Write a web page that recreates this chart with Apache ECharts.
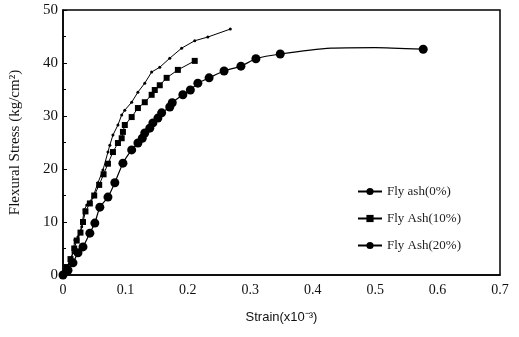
<!DOCTYPE html>
<html><head><meta charset="utf-8">
<script src="https://cdn.jsdelivr.net/npm/echarts@6/dist/echarts.min.js"></script>
<style>html,body{margin:0;padding:0;background:#fff}#c{width:519px;height:337px}</style>
</head><body><div id="c"></div>
<script>
const seriesNames = ['Fly ash(0%)', 'Fly Ash(10%)', 'Fly Ash(20%)'];
const xTicks = [0, 0.1, 0.2, 0.3, 0.4, 0.5, 0.6, 0.7];
const yTicks = [0, 10, 20, 30, 40, 50];

const strain0 = [0, 0.003, 0.011, 0.016, 0.019, 0.024, 0.03, 0.034, 0.038, 0.048, 0.056, 0.064, 0.072, 0.075, 0.08, 0.088, 0.094, 0.099, 0.11, 0.12, 0.131, 0.142, 0.155, 0.171, 0.19, 0.211, 0.232, 0.268];
const stress0 = [0, 0.9, 2.3, 4.2, 6.6, 7.2, 9.1, 12.3, 13.2, 14.7, 17.4, 19.8, 23.2, 24.5, 26.4, 28.3, 30.2, 31.1, 32.6, 34.5, 36.2, 38.3, 39.2, 40.9, 42.8, 44.2, 44.9, 46.4];

const strain10 = [0, 0.006, 0.012, 0.018, 0.022, 0.028, 0.032, 0.036, 0.043, 0.05, 0.058, 0.065, 0.072, 0.08, 0.088, 0.094, 0.096, 0.099, 0.11, 0.12, 0.131, 0.142, 0.147, 0.155, 0.166, 0.184, 0.211];
const stress10 = [0, 1.5, 3.0, 5.0, 6.5, 8.0, 10.0, 12.0, 13.5, 15.0, 17.0, 19.0, 21.0, 23.2, 24.9, 25.8, 27.0, 28.3, 29.8, 31.5, 32.6, 34.0, 34.9, 35.8, 37.2, 38.7, 40.4];

const strain20 = [0, 0.008, 0.016, 0.024, 0.032, 0.043, 0.051, 0.059, 0.072, 0.083, 0.096, 0.11, 0.12, 0.127, 0.131, 0.139, 0.144, 0.152, 0.158, 0.171, 0.175, 0.192, 0.204, 0.216, 0.234, 0.258, 0.285, 0.309, 0.348, 0.43, 0.5, 0.577];
const stress20 = [0, 0.9, 2.3, 4.2, 5.3, 7.9, 9.8, 12.8, 14.7, 17.4, 21.1, 23.6, 24.9, 25.8, 26.8, 27.7, 28.7, 29.6, 30.6, 31.7, 32.5, 34.0, 34.9, 36.2, 37.2, 38.5, 39.4, 40.8, 41.7, 42.8, 42.9, 42.6];
// points of the 20% curve drawn without a marker (line only)
const noMarker20 = [0.43, 0.5];

function pairs(xs, ys) { return xs.map((x, i) => [x, ys[i]]); }
const data20 = strain20.map((x, i) => noMarker20.includes(x)
  ? { value: [x, stress20[i]], symbolSize: 0 } : [x, stress20[i]]);

const serif = '"Liberation Serif", "DejaVu Serif", serif';
const chart = echarts.init(document.getElementById('c'));
chart.setOption({
  animation: false,
  backgroundColor: '#fff',
  grid: { left: 63, right: 19, top: 10, bottom: 62, show: true, borderColor: '#000', borderWidth: 1.5, backgroundColor: 'transparent' },
  legend: {
    left: 352, top: 180, orient: 'vertical', itemGap: 14, itemWidth: 24, itemHeight: 9,
    data: seriesNames,
    textStyle: { fontFamily: serif, fontSize: 13, color: '#222' }
  },
  xAxis: {
    type: 'value', min: 0, max: 0.7, interval: 0.1,
    name: 'Strain(x10⁻³)', nameLocation: 'middle', nameGap: 36,
    nameTextStyle: { fontFamily: '"Liberation Sans", Arial, sans-serif', fontSize: 13, color: '#111' },
    axisLine: { lineStyle: { color: '#000', width: 1.5 } },
    axisTick: { show: false },
    splitLine: { show: false },
    axisLabel: { fontFamily: serif, fontSize: 14, color: '#111', margin: 8,
      formatter: v => { const t = xTicks.find(a => Math.abs(a - v) < 1e-9); return t === undefined ? '' : String(t); } }
  },
  yAxis: {
    type: 'value', min: 0, max: 50, interval: 10,
    name: 'Flexural Stress (kg/cm²)', nameLocation: 'middle', nameGap: 40, nameRotate: 90,
    nameTextStyle: { fontFamily: serif, fontSize: 15, color: '#111' },
    axisLine: { lineStyle: { color: '#000', width: 1.5 } },
    axisTick: { show: true, inside: true, length: 4, lineStyle: { color: '#000' } },
    minorTick: { show: true, splitNumber: 2, length: 3, lineStyle: { color: '#000' } },
    splitLine: { show: false },
    axisLabel: { fontFamily: serif, fontSize: 15, color: '#111', margin: 5,
      formatter: v => (yTicks.includes(v) ? String(v) : '') }
  },
  series: [
    { name: seriesNames[0], type: 'line', data: pairs(strain0, stress0), symbol: 'circle', symbolSize: 3,
      lineStyle: { color: '#000', width: 1 }, itemStyle: { color: '#000' } },
    { name: seriesNames[1], type: 'line', data: pairs(strain10, stress10), symbol: 'rect', symbolSize: 6,
      lineStyle: { color: '#000', width: 1 }, itemStyle: { color: '#000' } },
    { name: seriesNames[2], type: 'line', data: data20, symbol: 'circle', symbolSize: 9, smooth: 0.2,
      lineStyle: { color: '#000', width: 1.2 }, itemStyle: { color: '#000' } }
  ]
});
</script></body></html>
